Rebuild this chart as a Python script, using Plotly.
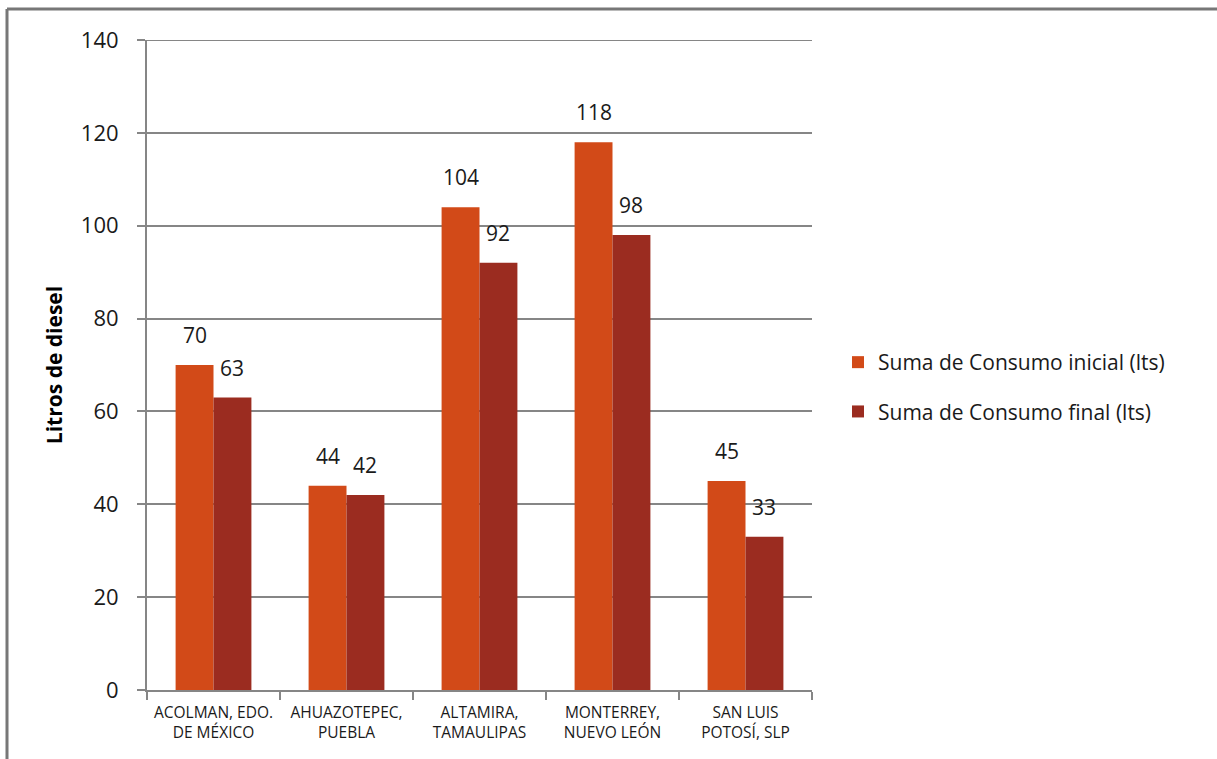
import plotly.graph_objects as go

# Diesel consumption per site, before and after
categories = [
    "ACOLMAN, EDO.<br>DE MÉXICO",
    "AHUAZOTEPEC,<br>PUEBLA",
    "ALTAMIRA,<br>TAMAULIPAS",
    "MONTERREY,<br>NUEVO LEÓN",
    "SAN LUIS<br>POTOSÍ, SLP",
]
consumo_inicial = [70, 44, 104, 118, 45]
consumo_final = [63, 42, 92, 98, 33]
series_names = ["Suma de Consumo inicial (lts)", "Suma de Consumo final (lts)"]
y_ticks = [0, 20, 40, 60, 80, 100, 120, 140]

FONT = "Open Sans"
GRID = "#868686"
TEXT = "#1a1a1a"
COLORS = ["#D24A18", "#9B2C20"]

W, H = 1217, 759
ML, MR, MT, MB = 147, 405, 40, 69
PW, PH = W - ML - MR, H - MT - MB
BARGAP = 0.43

fig = go.Figure()
for name, vals, color, grp in [
    (series_names[0], consumo_inicial, COLORS[0], "a"),
    (series_names[1], consumo_final, COLORS[1], "b"),
]:
    fig.add_trace(go.Bar(
        x=categories, y=vals, name=name,
        marker=dict(color=color, line=dict(width=0)),
        legendgroup=grp,
    ))

# value labels above each bar, lifted a little off the bar top
cat_px = PW / len(categories)
bar_px = cat_px * (1 - BARGAP) / 2
annotations = []
for k, vals in enumerate([consumo_inicial, consumo_final]):
    shift = (k - 0.5) * bar_px
    for cat, v in zip(categories, vals):
        annotations.append(dict(
            x=cat, y=v, xref="x", yref="y", text=str(v), showarrow=False,
            xanchor="center", yanchor="bottom", xshift=shift, yshift=14,
            font=dict(family=FONT, size=21, color=TEXT),
        ))


def px_x(x):
    return (x - ML) / PW


def px_y(y):
    return (H - MB - y) / PH


fig.update_layout(
    width=W, height=H,
    margin=dict(l=ML, r=MR, t=MT, b=MB),
    paper_bgcolor="white", plot_bgcolor="white",
    barmode="group", bargap=BARGAP, bargroupgap=0,
    font=dict(family=FONT, color=TEXT),
    showlegend=True,
    legend=dict(
        x=px_x(838), y=px_y(387), xanchor="left", yanchor="middle",
        font=dict(family=FONT, size=21, color=TEXT),
        traceorder="grouped", tracegroupgap=19,
        bgcolor="rgba(0,0,0,0)",
    ),
    xaxis=dict(
        type="category", tickson="boundaries",
        ticks="outside", ticklen=8, tickwidth=2, tickcolor=GRID,
        showline=True, linecolor=GRID, linewidth=2,
        showgrid=False, ticklabelstandoff=7,
        tickfont=dict(family=FONT, size=15.5, color=TEXT),
    ),
    yaxis=dict(
        range=[0, 140], tickvals=y_ticks,
        ticks="outside", ticklen=8, tickwidth=2, tickcolor=GRID,
        showline=True, linecolor=GRID, linewidth=2,
        showgrid=True, gridcolor=GRID, gridwidth=2,
        zeroline=False, ticklabelstandoff=14,
        tickfont=dict(family=FONT, size=22, color=TEXT),
        title=dict(text="<b>Litros de diesel</b>",
                   font=dict(family=FONT, size=21, color="black"), standoff=12),
    ),
    annotations=annotations,
    shapes=[
        # gridline at the top of the value range
        dict(type="line", xref="paper", yref="y", x0=0, x1=1, y0=140, y1=140,
             line=dict(color=GRID, width=2)),
        # outer frame of the chart area
        dict(type="line", xref="paper", yref="paper",
             x0=px_x(7), x1=px_x(7), y0=px_y(759), y1=px_y(9),
             line=dict(color="#777777", width=3)),
        dict(type="line", xref="paper", yref="paper",
             x0=px_x(7), x1=px_x(1217), y0=px_y(9), y1=px_y(9),
             line=dict(color="#777777", width=3)),
    ],
)

fig.write_html("out.html")
